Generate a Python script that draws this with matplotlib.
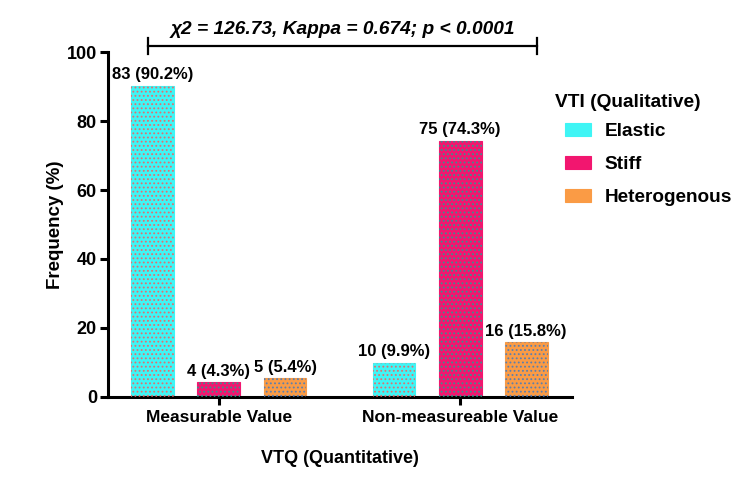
import matplotlib
matplotlib.use("Agg")
import matplotlib.pyplot as plt
import numpy as np

plt.rcParams['font.family'] = ['Liberation Sans', 'DejaVu Sans']
plt.rcParams['font.weight'] = 'bold'
plt.rcParams['hatch.linewidth'] = 0.8

groups = ["Measurable Value", "Non-measureable Value"]
series = ["Elastic", "Stiff", "Heterogenous"]
elastic = [90.2, 9.9]
stiff = [4.3, 74.3]
hetero = [5.4, 15.8]
elastic_n = [83, 10]
stiff_n = [4, 75]
hetero_n = [5, 16]
yticks = [0, 20, 40, 60, 80, 100]
stat_text = "χ2 = 126.73, Kappa = 0.674; p < 0.0001"
legend_title = "VTI (Qualitative)"

values = [elastic, stiff, hetero]
counts = [elastic_n, stiff_n, hetero_n]
fills = ["#3FF5F5", "#F2166F", "#FA9B45"]
dots = ["#E07070", "#3A9090", "#5A7FB0"]

fig = plt.figure(figsize=(7.5, 4.94), dpi=100)
ax = fig.add_axes([0.144, 0.1964, 0.619, 0.6983])

x = np.arange(len(groups))
off = 0.274
w = 0.178
for i, (vals, cnts) in enumerate(zip(values, counts)):
    pos = x + (i - 1) * off
    ax.bar(pos, vals, width=w, color=fills[i], edgecolor=fills[i], linewidth=0.8, label=series[i], zorder=2)
    ax.bar(pos, vals, width=w, color='none', edgecolor=dots[i], linewidth=0, hatch='....', zorder=3)
    for p, v, c in zip(pos, vals, cnts):
        ax.text(p, v + 1.0, f"{c} ({v}%)", ha='center', va='bottom', fontsize=12, fontweight='bold')

ax.set_xlim(-0.46, 1.465)
ax.set_ylim(0, 100)
ax.set_yticks(yticks)
ax.set_xticks(x)
ax.set_xticklabels(groups, fontsize=12.5, fontweight='bold')
ax.tick_params(axis='y', labelsize=13, width=2.2, length=6, direction='out', pad=2)
ax.tick_params(axis='x', width=2.2, length=6, direction='out')
for lab in ax.get_yticklabels():
    lab.set_fontweight('bold')
ax.spines['top'].set_visible(False)
ax.spines['right'].set_visible(False)
ax.spines['left'].set_linewidth(2.2)
ax.spines['bottom'].set_linewidth(2.2)
ax.set_ylabel("Frequency (%)", fontsize=13.5, fontweight='bold', labelpad=2)
ax.set_xlabel("VTQ (Quantitative)", fontsize=13, fontweight='bold', labelpad=18)

# significance bracket
yb = 101.7
x0, x1 = -0.295, 1.32
ax.plot([x0, x1], [yb, yb], color='black', lw=1.6, clip_on=False)
ax.plot([x0, x0], [yb - 2.4, yb + 2.4], color='black', lw=1.6, clip_on=False)
ax.plot([x1, x1], [yb - 2.4, yb + 2.4], color='black', lw=1.6, clip_on=False)
ax.text((x0 + x1) / 2, yb + 2.5, stat_text, ha='center', va='bottom', fontsize=13.8,
        fontweight='bold', fontstyle='italic')

fig.text(555 / 750, 1 - 102 / 494, legend_title, ha='left', va='center',
         fontsize=13.8, fontweight='bold')
leg = ax.legend(loc='upper left', bbox_to_anchor=(565 / 750, 1 - 123 / 494),
                bbox_transform=fig.transFigure, borderpad=0, borderaxespad=0,
                frameon=False, fontsize=13.7,
                handlelength=1.35, handleheight=0.65, labelspacing=0.84, handletextpad=0.75)
for t in leg.get_texts():
    t.set_fontweight('bold')

fig.savefig("out.png", dpi=100)
